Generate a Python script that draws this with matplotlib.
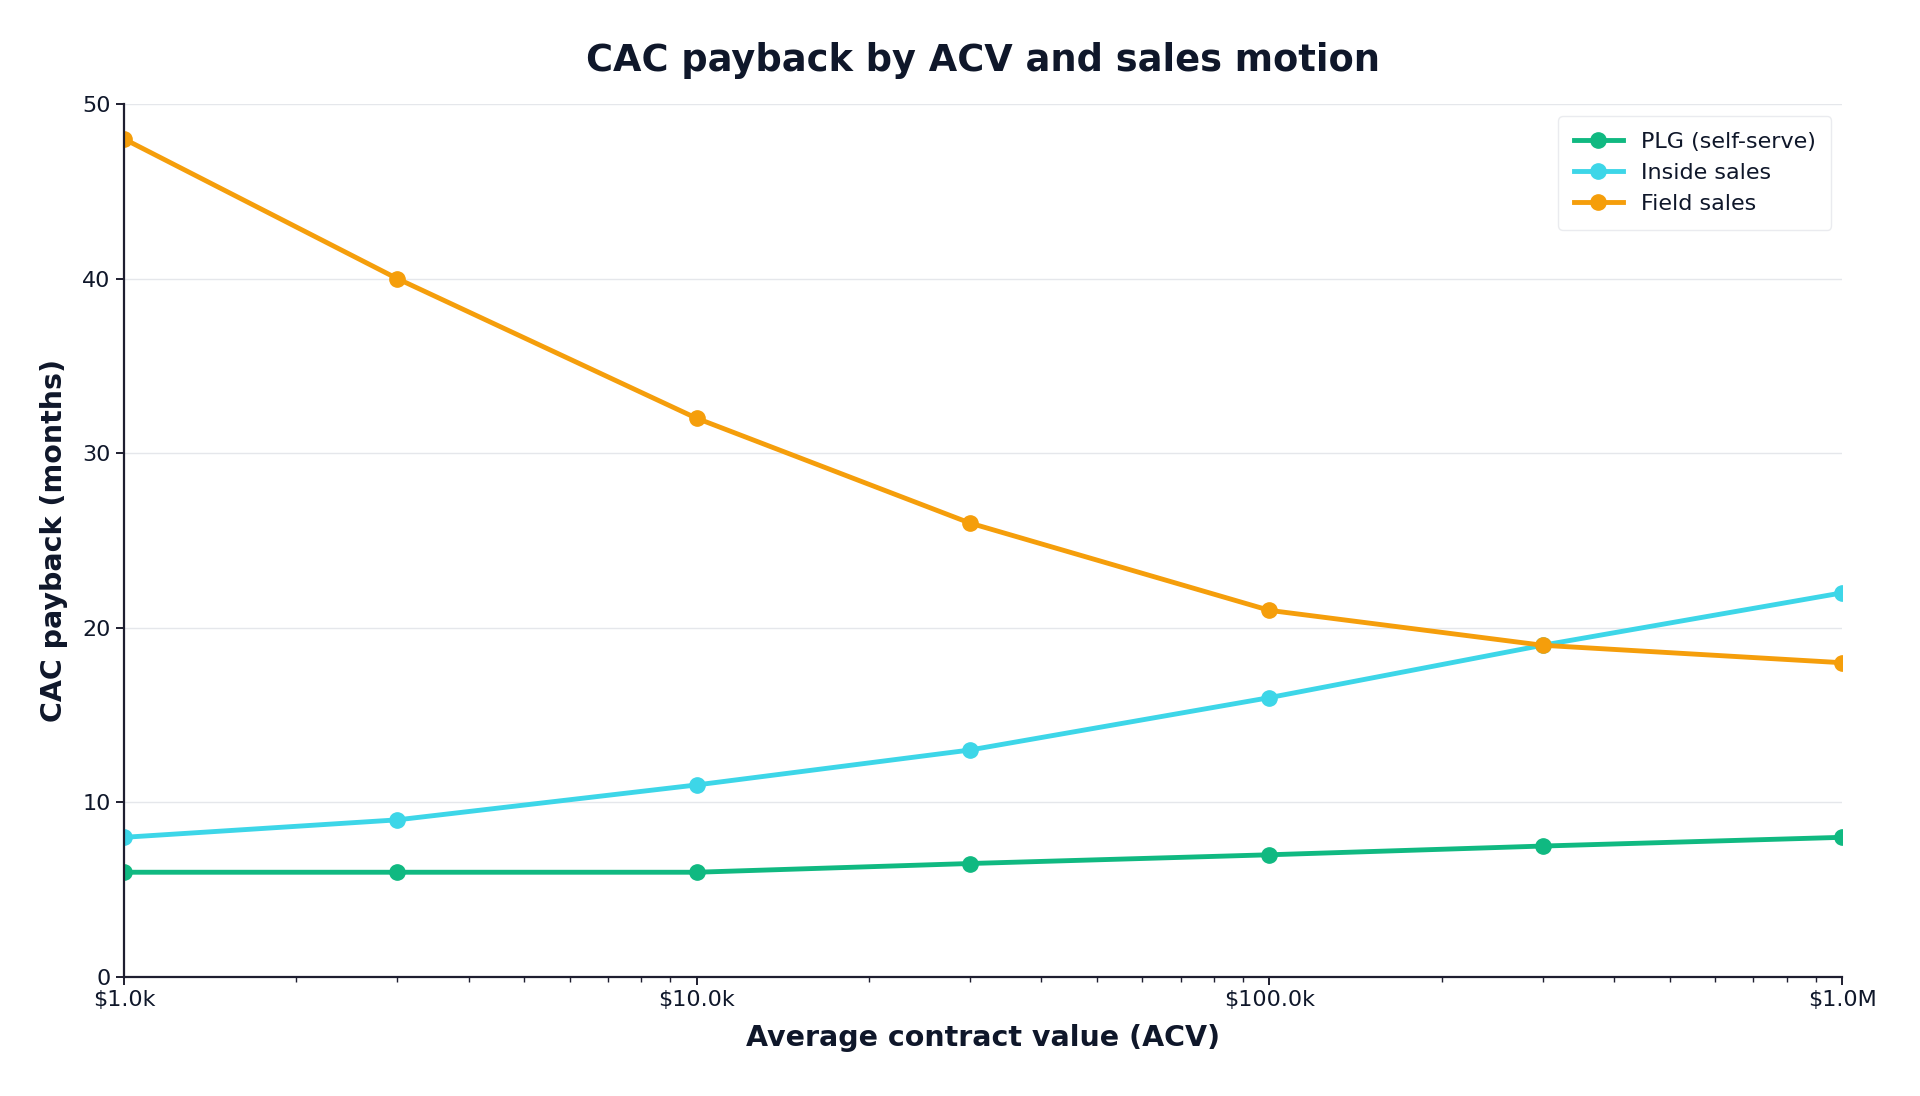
import matplotlib
matplotlib.use("Agg")
import matplotlib.pyplot as plt
from matplotlib.ticker import FuncFormatter, LogLocator, NullFormatter

# Data
acv = [1000, 3000, 10000, 30000, 100000, 300000, 1000000]
plg = [6, 6, 6, 6.5, 7, 7.5, 8]
inside_sales = [8, 9, 11, 13, 16, 19, 22]
field_sales = [48, 40, 32, 26, 21, 19, 18]

TEXT = "#0f172a"


def money(x, pos=None):
    if x >= 1e6:
        return f"${x / 1e6:.1f}M"
    return f"${x / 1e3:.1f}k"


fig = plt.figure(figsize=(19.2, 10.96), dpi=100)
ax = fig.add_axes([124 / 1920, 1 - 977 / 1096, (1842 - 124) / 1920, (977 - 104) / 1096])

ax.plot(acv, plg, color="#10b981", lw=3.5, marker="o", ms=11, label="PLG (self-serve)")
ax.plot(acv, inside_sales, color="#3dd6e8", lw=3.5, marker="o", ms=11, label="Inside sales")
ax.plot(acv, field_sales, color="#f59e0b", lw=3.5, marker="o", ms=11, label="Field sales")

ax.set_xscale("log")
ax.set_xlim(1000, 1000000)
ax.set_ylim(0, 50)
ax.xaxis.set_major_locator(LogLocator(base=10))
ax.xaxis.set_major_formatter(FuncFormatter(money))
ax.xaxis.set_minor_formatter(NullFormatter())

ax.grid(axis="y", color="#e5e7eb", lw=1)
ax.set_axisbelow(True)
for s in ["top", "right"]:
    ax.spines[s].set_visible(False)
for s in ["left", "bottom"]:
    ax.spines[s].set_color("#1e1e30")
    ax.spines[s].set_linewidth(1.6)

ax.tick_params(axis="both", which="major", labelsize=16, colors="#1e1e30", labelcolor=TEXT, length=6, width=1.4)
ax.tick_params(axis="x", which="minor", length=3.5, width=1.0, colors="#1e1e30")

ax.set_title("CAC payback by ACV and sales motion", fontsize=26.5, fontweight="bold", color=TEXT, pad=24)
ax.set_xlabel("Average contract value (ACV)", fontsize=20.5, fontweight="bold", color=TEXT, labelpad=10)
ax.set_ylabel("CAC payback (months)", fontsize=20.5, fontweight="bold", color=TEXT, labelpad=10)

leg = ax.legend(loc="upper right", fontsize=16, frameon=True, borderpad=0.7, labelspacing=0.5,
                handlelength=2.2, borderaxespad=0, bbox_to_anchor=(0.9936, 0.986))
leg.get_frame().set_edgecolor("#e5e7eb")
for t in leg.get_texts():
    t.set_color(TEXT)

fig.savefig("out.png", dpi=100)
